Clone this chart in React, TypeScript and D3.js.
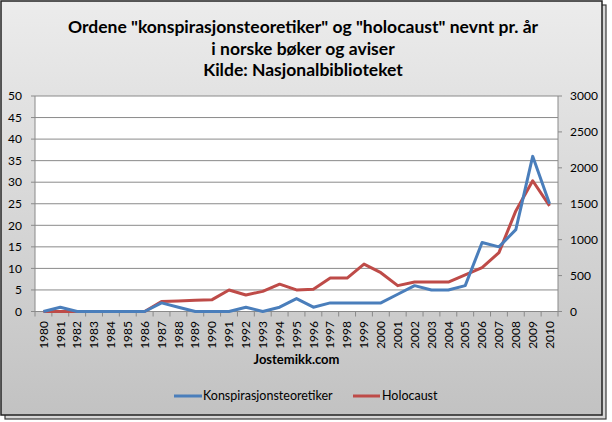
import React from "react";
import * as d3 from "d3";

const years: string[] = [
  "1980","1981","1982","1983","1984","1985","1986","1987","1988","1989",
  "1990","1991","1992","1993","1994","1995","1996","1997","1998","1999",
  "2000","2001","2002","2003","2004","2005","2006","2007","2008","2009","2010",
];
const konspirasjon: number[] = [
  0,1,0,0,0,0,0,2,1,0,
  0,0,1,0,1,3,1,2,2,2,
  2,4,6,5,5,6,16,15,19,36,25,
];
const holocaust: number[] = [
  0,0,0,0,0,0,0,140,145,155,
  165,300,230,280,380,300,310,465,465,660,
  540,360,410,410,410,510,610,820,1400,1820,1470,
];
const leftTicks: number[] = [0,5,10,15,20,25,30,35,40,45,50];
const rightTicks: number[] = [0,500,1000,1500,2000,2500,3000];
const titleLines: string[] = [
  "Ordene \"konspirasjonsteoretiker\" og \"holocaust\" nevnt pr. år",
  "i norske bøker og aviser",
  "Kilde: Nasjonalbiblioteket",
];
const seriesNames: string[] = ["Konspirasjonsteoretiker", "Holocaust"];
const xTitle = "Jostemikk.com";

const W = 612, H = 422;
const PL = 35, PR = 558, PT = 96, PB = 311.5;
const BLUE = "#4a7ebb", RED = "#be4b48";
const FONT = "Lato, 'Open Sans', sans-serif";

export default function App() {
  const x = d3.scaleBand<string>().domain(years).range([PL, PR]).padding(0);
  const cx = (y: string) => (x(y) as number) + x.bandwidth() / 2;
  const yL = d3.scaleLinear().domain([0, 50]).range([PB, PT]);
  const yR = d3.scaleLinear().domain([0, 3000]).range([PB, PT]);

  const lineL = d3.line<number>().x((_, i) => cx(years[i])).y((d) => yL(d));
  const lineR = d3.line<number>().x((_, i) => cx(years[i])).y((d) => yR(d));

  const gridColor = "#8a8a8a";
  const boundaries = years.map((y) => x(y) as number).concat([PR]);

  return (
    <svg width={W} height={H} style={{ position: "fixed", left: 0, top: 0 }} fontFamily={FONT}>
      <defs>
        <linearGradient id="bg" x1="0" y1="0" x2="0" y2="1">
          <stop offset="0" stopColor="#ececec" />
          <stop offset="1" stopColor="#c2c2c2" />
        </linearGradient>
      </defs>
      <rect x={0} y={0} width={W} height={H} fill="#ffffff" />
      <rect x={5} y={5} width={601} height={414} fill="#d6d6d6" stroke="#3a3a3a" strokeWidth={1.2} />
      <rect x={1} y={1} width={601} height={414} fill="url(#bg)" stroke="#222" strokeWidth={1.5} />

      {titleLines.map((t, i) => (
        <text key={i} x={303} y={33 + i * 21.5} textAnchor="middle" fontWeight="bold" fontSize={17.5} fill="#000">
          {t}
        </text>
      ))}

      <rect x={PL} y={PT} width={PR - PL} height={PB - PT} fill="#ffffff" />

      {leftTicks.map((t) => (
        <g key={t}>
          {t > 0 && <line x1={PL} x2={PR} y1={yL(t)} y2={yL(t)} stroke={gridColor} strokeWidth={1} />}
          <line x1={PL - 4} x2={PL} y1={yL(t)} y2={yL(t)} stroke={gridColor} />
          <text x={22} y={yL(t)} dy="0.35em" textAnchor="end" fontSize={12} fill="#000">{t}</text>
        </g>
      ))}
      {rightTicks.map((t) => (
        <g key={t}>
          <line x1={PR} x2={PR + 4} y1={yR(t)} y2={yR(t)} stroke={gridColor} />
          <text x={570} y={yR(t)} dy="0.35em" textAnchor="start" fontSize={12} fill="#000">{t}</text>
        </g>
      ))}
      <line x1={PL} x2={PL} y1={PT} y2={PB} stroke={gridColor} />
      <line x1={PR} x2={PR} y1={PT} y2={PB} stroke={gridColor} />
      <line x1={PL} x2={PR} y1={PB} y2={PB} stroke={gridColor} />
      {boundaries.map((b, i) => (
        <line key={i} x1={b} x2={b} y1={PB} y2={PB + 5} stroke={gridColor} />
      ))}
      {years.map((y) => (
        <text key={y} transform={`translate(${cx(y)},321) rotate(-90)`} dy="0.35em" textAnchor="end" fontSize={12} fill="#000">
          {y}
        </text>
      ))}
      <text x={(PL + PR) / 2} y={364} textAnchor="middle" fontWeight="bold" fontSize={13} fill="#000">{xTitle}</text>

      <path d={lineR(holocaust) || ""} fill="none" stroke={RED} strokeWidth={3} strokeLinejoin="round" />
      <path d={lineL(konspirasjon) || ""} fill="none" stroke={BLUE} strokeWidth={3} strokeLinejoin="round" />

      <g>
        <line x1={174} x2={202} y1={396} y2={396} stroke={BLUE} strokeWidth={3} />
        <text x={203} y={396} dy="0.35em" fontSize={12.5} fill="#000">{seriesNames[0]}</text>
        <line x1={353} x2={380} y1={396} y2={396} stroke={RED} strokeWidth={3} />
        <text x={382} y={396} dy="0.35em" fontSize={12.5} fill="#000">{seriesNames[1]}</text>
      </g>
    </svg>
  );
}
